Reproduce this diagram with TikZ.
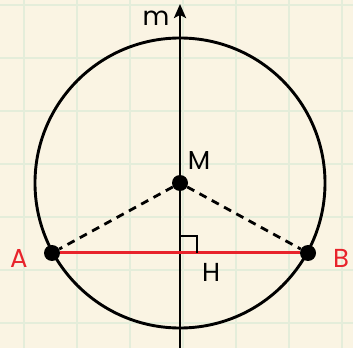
\documentclass[tikz,border=0pt]{standalone}
\usepackage{fontspec}
\setmainfont{Poppins}
\usetikzlibrary{arrows.meta,calc}
\definecolor{bg}{HTML}{FAF4E3}
\definecolor{gridc}{HTML}{E4EDDA}
\definecolor{redc}{HTML}{E8232B}
\tikzset{
  dot/.style={circle,fill=black,inner sep=0pt,minimum size=16pt},
  lbl/.style={font=\fontsize{26}{26}\selectfont,inner sep=0pt},
  radius line/.style={line width=2.8pt,dash pattern=on 8pt off 6pt},
}
\begin{document}
\begin{tikzpicture}[x=1pt,y=1pt]
\fill[bg] (0,0) rectangle (353,348);
\useasboundingbox (0,0) rectangle (353,348);
\foreach \x in {24,77,130,183,236,289,342} \draw[gridc,line width=2.2pt] (\x,0) -- (\x,348);
\foreach \y in {25,78,131,184,237,290,343} \draw[gridc,line width=2.2pt] (0,\y) -- (353,\y);
\coordinate (bot) at (180,0);
\coordinate (top) at (180,344);
\node[dot] (M) at (180,165) {};
\node[dot] (A) at (52,95) {};
\node[dot] (B) at (308,95) {};
\coordinate (H) at (180,95);
\draw[line width=2.9pt] (M.center) circle (145);
\draw[line width=2.6pt,-{Stealth[length=14pt,width=12pt,inset=3pt]}] (bot) -- (top);
\draw[radius line] (M) -- (A);
\draw[radius line] (M) -- (B);
\draw[redc,line width=3pt] (A) -- (B);
\draw[line width=2.4pt] ($(H)+(0,17)$) -- ++(17,0) -- ++(0,-17);
\node[lbl] (m) at (156,330) {m};
\node[lbl] (Ml) at (199,187) {M};
\node[lbl] (Hl) at (211,76) {H};
\node[lbl,text=redc] (Al) at (19,90) {A};
\node[lbl,text=redc] (Bl) at (341,90) {B};
\end{tikzpicture}
\end{document}
